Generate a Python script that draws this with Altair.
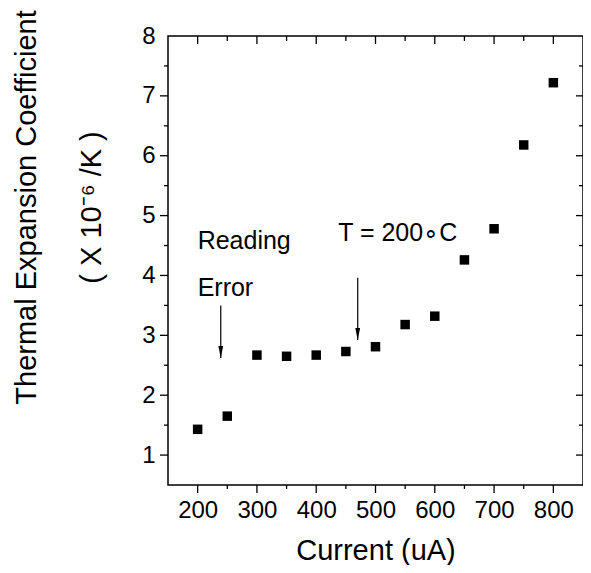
import altair as alt
import pandas as pd

# ---- data ----
current = [200, 250, 300, 350, 400, 450, 500, 550, 600, 650, 700, 750, 800]
tec = [1.43, 1.65, 2.67, 2.65, 2.67, 2.73, 2.81, 3.18, 3.32, 4.26, 4.78, 6.18, 7.22]

x_major = [200, 300, 400, 500, 600, 700, 800]
x_minor = [250, 350, 450, 550, 650, 750]
y_major = [1, 2, 3, 4, 5, 6, 7]
y_minor = [1.5, 2.5, 3.5, 4.5, 5.5, 6.5, 7.5]
y_labels = [1, 2, 3, 4, 5, 6, 7, 8]

note_text = ["Reading", "Error", "T = 200\u2218C"]
note_x = [200, 200, 437]
note_y = [4.45, 3.66, 4.58]

arrow_x = [239, 470]
arrow_top = [3.5, 3.96]
arrow_tip = [2.62, 2.92]

W, H = 415, 449
FONT = "Liberation Sans"

xs = alt.Scale(domain=[150, 850], nice=False, zero=False)
ys = alt.Scale(domain=[0.5, 8], nice=False, zero=False)

pts_df = pd.DataFrame({"current": current, "tec": tec})

points = alt.Chart(pts_df).mark_square(size=90, color="black", opacity=1).encode(
    x=alt.X("current:Q", scale=xs,
            axis=alt.Axis(values=x_major, format="d", ticks=False, tickSize=0, domain=False,
                          grid=False, labelFontSize=24, labelFont=FONT, labelColor="black",
                          labelPadding=13,
                          title="Current (uA)", titleFontSize=29, titleFont=FONT,
                          titleFontWeight="normal", titleColor="black",
                          titleY=74, titleBaseline="alphabetic")),
    y=alt.Y("tec:Q", scale=ys,
            axis=alt.Axis(values=y_labels, format="d", ticks=False, tickSize=0, domain=False,
                          grid=False, labelFontSize=24, labelFont=FONT, labelColor="black",
                          labelPadding=13,
                          title=["Thermal Expansion Coefficient", "( X 10\u207B\u2076 /K )"],
                          titleFontSize=29, titleFont=FONT, titleFontWeight="normal",
                          titleColor="black", titleAngle=-90, titleAlign="center",
                          titleBaseline="alphabetic", titleLineHeight=65,
                          titleX=-133, titleY=171)),
)

def xticks(vals, y0, y1):
    return alt.Chart(pd.DataFrame({"v": vals})).mark_rule(color="black", strokeWidth=1.3).encode(
        x=alt.X("v:Q", scale=xs), y=alt.value(y0), y2=alt.value(y1))

def yticks(vals, x0, x1):
    return alt.Chart(pd.DataFrame({"v": vals})).mark_rule(color="black", strokeWidth=1.3).encode(
        y=alt.Y("v:Q", scale=ys), x=alt.value(x0), x2=alt.value(x1))

tick_layers = [
    xticks(x_major, H, H + 8), xticks(x_minor, H, H + 4),
    xticks(x_major, 0, 8), xticks(x_minor, 0, 5),
    yticks(y_major, 0, -8), yticks(y_minor, 0, -4),
    yticks(y_major, W, W - 7), yticks(y_minor, W, W - 4),
]

notes = alt.Chart(pd.DataFrame({"x": note_x, "y": note_y, "t": note_text})).mark_text(
    align="left", baseline="alphabetic", fontSize=25, font=FONT, color="black").encode(
    x=alt.X("x:Q", scale=xs), y=alt.Y("y:Q", scale=ys), text="t:N")

arr_df = pd.DataFrame({"x": arrow_x, "top": arrow_top, "tip": arrow_tip})
shafts = alt.Chart(arr_df).mark_rule(color="black", strokeWidth=1.2).encode(
    x=alt.X("x:Q", scale=xs), y=alt.Y("top:Q", scale=ys), y2="tip:Q")
heads = alt.Chart(arr_df).mark_point(
    shape="M-0.4,-2L0.4,-2L0,0Z", size=144, filled=True, color="black", opacity=1).encode(
    x=alt.X("x:Q", scale=xs), y=alt.Y("tip:Q", scale=ys))

chart = alt.layer(points, *tick_layers, shafts, heads, notes).properties(
    width=W, height=H,
    autosize=alt.AutoSizeParams(type="none"),
    padding={"left": 160, "top": 28, "right": 0, "bottom": 80},
    background="white",
).configure_view(stroke="black", strokeWidth=1.5)

chart.save("out.html", embed_options={"renderer": "svg", "actions": False})
